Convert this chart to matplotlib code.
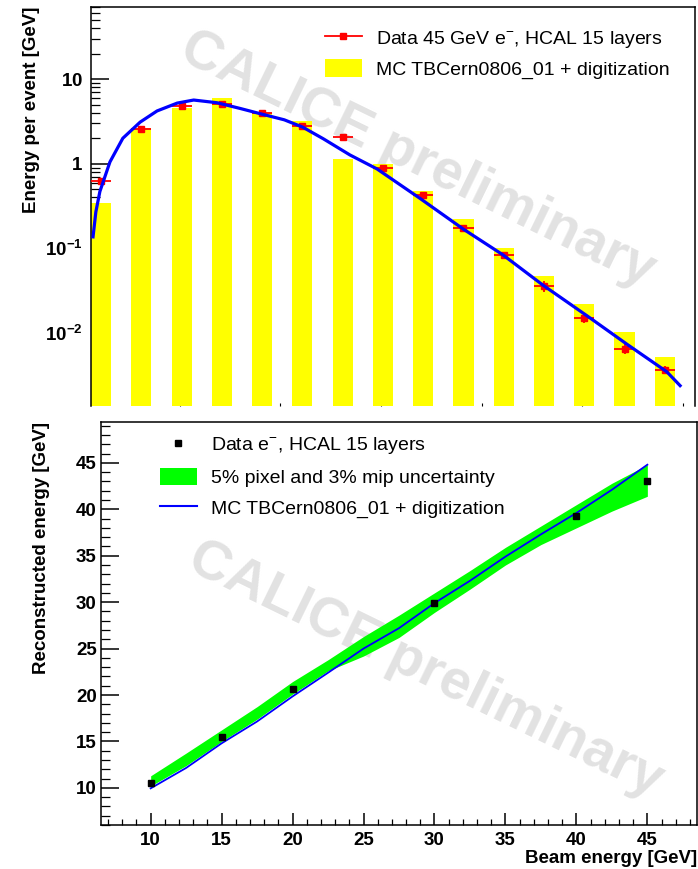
import numpy as np
import matplotlib
matplotlib.use("Agg")
from matplotlib import pyplot as plt
from matplotlib.lines import Line2D
from matplotlib.patches import Patch
from matplotlib.ticker import FixedLocator, FixedFormatter, MultipleLocator, LogLocator, NullFormatter

plt.rcParams['font.family'] = ['Liberation Sans', 'DejaVu Sans']
plt.rcParams['mathtext.fontset'] = 'custom'
plt.rcParams['mathtext.rm'] = 'Liberation Sans'
plt.rcParams['mathtext.bf'] = 'Liberation Sans:bold'

# longitudinal profile, 45 GeV electrons, per HCAL layer
layer = [0, 1, 2, 3, 4, 5, 6, 7, 8, 9, 10, 11, 12, 13, 14]
mc_energy = [0.345, 2.67, 4.6, 6.0, 4.0, 3.23, 1.15, 0.98, 0.48, 0.224, 0.102, 0.047, 0.022, 0.0103, 0.0052]
data_energy = [0.63, 2.6, 4.86, 5.1, 4.0, 2.8, 2.09, 0.90, 0.43, 0.175, 0.084, 0.036, 0.015, 0.0065, 0.0037]
data_err = [0.03, 0.1, 0.2, 0.2, 0.15, 0.1, 0.08, 0.04, 0.02, 0.01, 0.006, 0.005, 0.0018, 0.0009, 0.0004]
fit_x = [0.05, 0.12, 0.22, 0.47, 0.79, 1.22, 1.64, 2.14, 2.55, 3.13, 3.70, 4.20, 4.80, 5.26, 5.77,
         6.43, 7.10, 8.17, 9.24, 10.23, 11.22, 12.32, 13.31, 14.30, 14.63]
fit_y = [0.137, 0.27, 0.47, 1.05, 2.0, 3.1, 4.2, 5.2, 5.65, 5.25, 4.5, 3.9, 3.3, 2.7, 1.97,
         1.27, 0.87, 0.39, 0.17, 0.084, 0.037, 0.016, 0.0074, 0.0035, 0.0024]

# linearity
beam_mc = [10, 12.5, 15, 17.5, 20, 22.5, 25, 27.5, 30, 32.5, 35, 37.5, 40, 42.5, 45]
reco_mc = [9.95, 12.15, 14.8, 17.15, 19.85, 22.4, 25.0, 27.2, 29.9, 32.3, 34.9, 37.3, 39.6, 42.1, 44.8]
band_hi = [11.3, 13.75, 16.25, 18.75, 21.45, 23.8, 26.3, 28.6, 31.0, 33.4, 35.9, 38.2, 40.5, 42.8, 44.8]
band_lo = [10.2, 12.4, 15.0, 17.4, 20.1, 22.6, 24.2, 26.2, 28.9, 31.4, 34.0, 36.2, 38.0, 39.8, 41.4]
beam_data = [10, 15, 20, 30, 40, 45]
reco_data = [10.5, 15.5, 20.6, 29.9, 39.25, 43.0]

fig = plt.figure(figsize=(6.98, 8.69), dpi=100)
ax1 = fig.add_axes([0.1304, 0.5328, 0.8653, 0.4591])
ax2 = fig.add_axes([0.1447, 0.0506, 0.8539, 0.4638])

wm = dict(fontsize=40, fontweight='bold', color='#e2e2e2', rotation=-26,
          rotation_mode='anchor', ha='center', va='center', zorder=0)

# ---- top: profile ----
ax1.text(0.54, 0.617, 'CALICE preliminary', transform=ax1.transAxes, **wm)
ax1.bar(layer, mc_energy, width=0.5, align='edge', color='#ffff00', zorder=2)
ax1.errorbar([l + 0.25 for l in layer], data_energy, xerr=0.25, yerr=data_err, fmt='s',
             color='#ff0000', ms=4, elinewidth=1.3, capsize=0, zorder=3)
ax1.plot(fit_x, fit_y, color='#0000ff', lw=2.3, zorder=4)
ax1.set_yscale('log')
ax1.set_xlim(0, 15)
ax1.set_ylim(10 ** -2.86, 10 ** 1.85)
ax1.spines['bottom'].set_visible(False)
for s in ['left', 'top', 'right']:
    ax1.spines[s].set_linewidth(1.1)
ax1.yaxis.set_major_locator(FixedLocator([0.01, 0.1, 1, 10]))
ax1.yaxis.set_major_formatter(FixedFormatter([r'$\mathbf{10^{-2}}$', r'$\mathbf{10^{-1}}$',
                                              r'$\mathbf{1}$', r'$\mathbf{10}$']))
ax1.yaxis.set_minor_locator(LogLocator(base=10, subs=np.arange(2, 10)))
ax1.yaxis.set_minor_formatter(NullFormatter())
ax1.tick_params(axis='y', which='major', direction='in', length=13, width=1.1, pad=6,
                labelsize=13.5, right=False)
ax1.tick_params(axis='y', which='minor', direction='in', length=6.5, width=0.9, right=False)
ax1.xaxis.set_major_locator(FixedLocator([2.2, 4.7, 7.2, 9.7, 12.2, 14.7]))
ax1.xaxis.set_minor_locator(FixedLocator([]))
ax1.tick_params(axis='x', which='major', direction='in', length=2, width=0.8,
                labelbottom=False, top=False)
ax1.set_ylabel('Energy per event [GeV]', fontsize=13.5, fontweight='bold', loc='top')
ax1.yaxis.set_label_coords(-0.085, 1.0)

h1 = [Line2D([], [], color='#ff0000', marker='s', ms=4, lw=1.3),
      Patch(facecolor='#ffff00', edgecolor='none')]
ax1.legend(h1, ['Data 45 GeV e$^{-}$, HCAL 15 layers', 'MC TBCern0806_01 + digitization'],
           loc='upper left', bbox_to_anchor=(325 / 698, 1 - 28 / 869),
           bbox_transform=fig.transFigure, frameon=False, fontsize=14, borderpad=0,
           borderaxespad=0, handlelength=1.9, handleheight=1.1, handletextpad=0.7,
           labelspacing=0.45)

# ---- bottom: linearity ----
ax2.text(0.544, 0.385, 'CALICE preliminary', transform=ax2.transAxes, **wm)
ax2.fill_between(beam_mc, band_lo, band_hi, color='#00ff00', lw=0, zorder=2)
ax2.plot(beam_mc, reco_mc, color='#0000ff', lw=1.3, zorder=3)
ax2.plot(beam_data, reco_data, 's', color='black', ms=4, zorder=4)
ax2.set_xlim(6.5, 48.5)
ax2.set_ylim(6, 49.4)
for s in ax2.spines.values():
    s.set_linewidth(1.1)
ax2.xaxis.set_major_locator(MultipleLocator(5))
ax2.xaxis.set_minor_locator(MultipleLocator(1))
ax2.yaxis.set_major_locator(MultipleLocator(5))
ax2.yaxis.set_minor_locator(MultipleLocator(1))
ax2.set_xticks([10, 15, 20, 25, 30, 35, 40, 45])
ax2.set_yticks([10, 15, 20, 25, 30, 35, 40, 45])
ax2.tick_params(axis='x', which='major', direction='in', length=9, width=1.1, pad=5, labelsize=13.5)
ax2.tick_params(axis='x', which='minor', direction='in', length=4.5, width=0.9)
ax2.tick_params(axis='y', which='major', direction='in', length=13, width=1.1, pad=3, labelsize=13.5)
ax2.tick_params(axis='y', which='minor', direction='in', length=6.5, width=0.9)
for lab in ax2.get_xticklabels() + ax2.get_yticklabels():
    lab.set_fontweight('bold')
ax2.set_ylabel('Reconstructed energy [GeV]', fontsize=13.5, fontweight='bold', loc='top')
ax2.yaxis.set_label_coords(-0.085, 1.0)
ax2.set_xlabel('Beam energy [GeV]', fontsize=13.5, fontweight='bold', loc='right')
ax2.xaxis.set_label_coords(1.0, -0.062)

h2 = [Line2D([], [], color='black', marker='s', ms=4, lw=0),
      Patch(facecolor='#00ff00', edgecolor='none'),
      Line2D([], [], color='#0000ff', lw=1.5)]
ax2.legend(h2, ['Data e$^{-}$, HCAL 15 layers', '5% pixel and 3% mip uncertainty',
                'MC TBCern0806_01 + digitization'],
           loc='upper left', bbox_to_anchor=(160 / 698, 1 - 435 / 869),
           bbox_transform=fig.transFigure, frameon=False, fontsize=14, borderpad=0,
           borderaxespad=0, handlelength=1.9, handleheight=1.0, handletextpad=0.7,
           labelspacing=0.58)

plt.savefig("out.png", dpi=100)
